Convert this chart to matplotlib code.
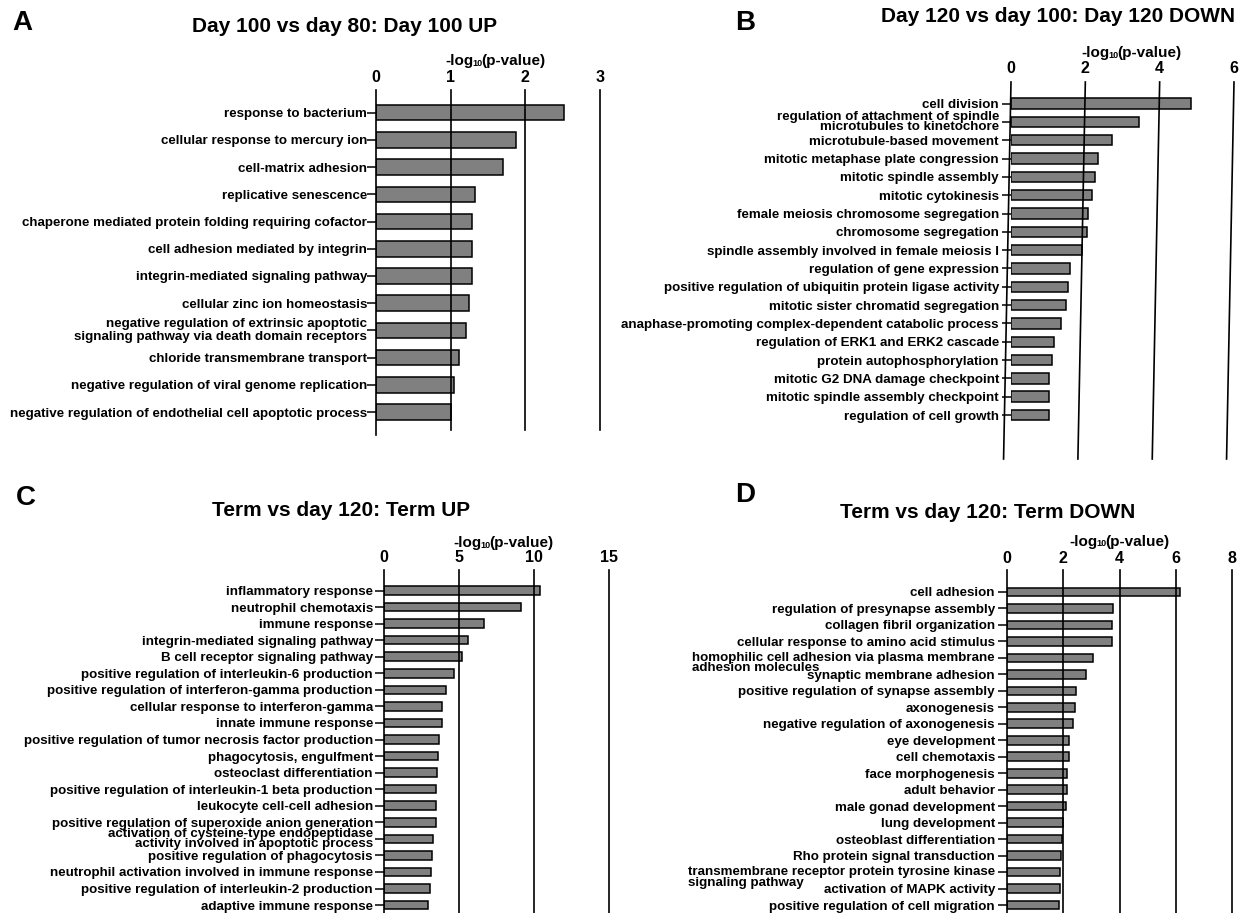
import numpy as np
import matplotlib
matplotlib.use("Agg")
import matplotlib.pyplot as plt
from matplotlib.transforms import ScaledTranslation

plt.rcParams['font.family'] = ['Liberation Sans Narrow', 'Liberation Sans', 'DejaVu Sans']
plt.rcParams['font.weight'] = 'bold'

# ---- GO terms and -log10(p) values -------------------------------
terms_a = ["response to bacterium",
           "cellular response to mercury ion",
           "cell-matrix adhesion",
           "replicative senescence",
           "chaperone mediated protein folding requiring cofactor",
           "cell adhesion mediated by integrin",
           "integrin-mediated signaling pathway",
           "cellular zinc ion homeostasis",
           "negative regulation of extrinsic apoptotic\nsignaling pathway via death domain receptors",
           "chloride transmembrane transport",
           "negative regulation of viral genome replication",
           "negative regulation of endothelial cell apoptotic process"]
vals_a = [2.52, 1.88, 1.70, 1.32, 1.29, 1.29, 1.29, 1.25, 1.20, 1.11, 1.05, 1.01]
ticks_a = [0, 1, 2, 3]

terms_b = ["cell division",
           "regulation of attachment of spindle\nmicrotubules to kinetochore",
           "microtubule-based movement",
           "mitotic metaphase plate congression",
           "mitotic spindle assembly",
           "mitotic cytokinesis",
           "female meiosis chromosome segregation",
           "chromosome segregation",
           "spindle assembly involved in female meiosis I",
           "regulation of gene expression",
           "positive regulation of ubiquitin protein ligase activity",
           "mitotic sister chromatid segregation",
           "anaphase-promoting complex-dependent catabolic process",
           "regulation of ERK1 and ERK2 cascade",
           "protein autophosphorylation",
           "mitotic G2 DNA damage checkpoint",
           "mitotic spindle assembly checkpoint",
           "regulation of cell growth"]
vals_b = [4.85, 3.44, 2.73, 2.35, 2.27, 2.19, 2.08, 2.05, 1.90, 1.60,
          1.53, 1.48, 1.34, 1.16, 1.10, 1.02, 1.02, 1.01]
ticks_b = [0, 2, 4, 6]

terms_c = ["inflammatory response",
           "neutrophil chemotaxis",
           "immune response",
           "integrin-mediated signaling pathway",
           "B cell receptor signaling pathway",
           "positive regulation of interleukin-6 production",
           "positive regulation of interferon-gamma production",
           "cellular response to interferon-gamma",
           "innate immune response",
           "positive regulation of tumor necrosis factor production",
           "phagocytosis, engulfment",
           "osteoclast differentiation",
           "positive regulation of interleukin-1 beta production",
           "leukocyte cell-cell adhesion",
           "positive regulation of superoxide anion generation",
           "activation of cysteine-type endopeptidase\nactivity involved in apoptotic process",
           "positive regulation of phagocytosis",
           "neutrophil activation involved in immune response",
           "positive regulation of interleukin-2 production",
           "adaptive immune response"]
vals_c = [10.38, 9.15, 6.64, 5.58, 5.21, 4.68, 4.10, 3.86, 3.84, 3.65,
          3.60, 3.54, 3.44, 3.44, 3.44, 3.25, 3.17, 3.12, 3.07, 2.96]
ticks_c = [0, 5, 10, 15]

terms_d = ["cell adhesion",
           "regulation of presynapse assembly",
           "collagen fibril organization",
           "cellular response to amino acid stimulus",
           "homophilic cell adhesion via plasma membrane\nadhesion molecules",
           "synaptic membrane adhesion",
           "positive regulation of synapse assembly",
           "axonogenesis",
           "negative regulation of axonogenesis",
           "eye development",
           "cell chemotaxis",
           "face morphogenesis",
           "adult behavior",
           "male gonad development",
           "lung development",
           "osteoblast differentiation",
           "Rho protein signal transduction",
           "transmembrane receptor protein tyrosine kinase\nsignaling pathway",
           "activation of MAPK activity",
           "positive regulation of cell migration"]
vals_d = [6.15, 3.78, 3.73, 3.73, 3.07, 2.81, 2.46, 2.42, 2.36, 2.21,
          2.21, 2.15, 2.15, 2.08, 1.98, 1.95, 1.91, 1.88, 1.88, 1.85]
ticks_d = [0, 2, 4, 6, 8]

W, H = 1242, 913
fig = plt.figure(figsize=(W / 100, H / 100), dpi=100)
renderer = fig.canvas.get_renderer()
LAB = 9.6


def fx(x):
    return x / W


def fy(y):
    return 1 - y / H


def panel(x0, x1, top, bottom, ylim, terms, vals, ticks, bar_h, pad,
          grid_end=None, lean=0.0, linesp=1.0, left_wrap=(), tick_y=11):
    ax = fig.add_axes([fx(x0), fy(bottom), (x1 - x0) / W, (bottom - top) / H])
    rows = np.arange(len(terms))
    ax.barh(rows, vals, height=bar_h, color='#808080', edgecolor='black',
            linewidth=1.1, zorder=2)
    ax.set_xlim(ticks[0], ticks[-1])
    ax.set_ylim(ylim[1], ylim[0])
    for s in ax.spines.values():
        s.set_visible(False)

    # vertical reference lines at every tick
    for t in ticks:
        yb = ylim[1] if (t == 0 or grid_end is None) else grid_end
        ax.plot([t, t - lean], [ylim[0], yb], color='black', lw=1.2,
                zorder=3, clip_on=False)

    ax.xaxis.tick_top()
    ax.set_xticks(ticks)
    ax.tick_params(axis='x', length=0, pad=(tick_y - 6) * 0.72, labelsize=11.5)
    ax.set_yticks(rows)
    ax.set_yticklabels([''] * len(rows))
    ax.tick_params(axis='y', length=6.5, width=1.1, direction='out')

    off = ScaledTranslation(-(6.5 + pad) / 72, 0, fig.dpi_scale_trans)
    trans = ax.get_yaxis_transform() + off
    for i, (r, lab) in enumerate(zip(rows, terms)):
        if i in left_wrap:
            tr = trans + ScaledTranslation(0, -3.7 / 72, fig.dpi_scale_trans)
            ax.text(0, r, lab, transform=tr, ha='right', va='center',
                    multialignment='left', fontsize=LAB, linespacing=linesp)
        elif '\n' in lab:
            ax.text(0, r, lab, transform=trans, ha='right', va='center',
                    fontsize=LAB, linespacing=linesp)
        else:
            ax.text(0, r, lab, transform=trans, ha='right',
                    va='center_baseline', fontsize=LAB)
    return ax


def xlabel(xc, yc):
    # -log10(p-value) with a small lowered subscript
    parts = [('-log', 11, 0), ('10', 6.5, -4), ('(p-value)', 11, 0)]
    widths = []
    for s, fs, dy in parts:
        t = fig.text(0, 0, s, fontsize=fs)
        widths.append(t.get_window_extent(renderer).width - 1)
        t.remove()
    x = xc - sum(widths) / 2
    for (s, fs, dy), w in zip(parts, widths):
        fig.text(fx(x), fy(yc - dy), s, fontsize=fs, ha='left',
                 va='center_baseline' if dy == 0 else 'center')
        x += w


def heading(letter, lx, ly, title, tx, ty):
    fig.text(fx(lx), fy(ly), letter, fontsize=20, family='Liberation Sans',
             ha='left', va='center')
    fig.text(fx(tx), fy(ty), title, fontsize=15, family='Liberation Sans',
             ha='center', va='center')


# A
panel(376, 600, 90, 435, (-0.83, 11.84), terms_a, vals_a, ticks_a,
      bar_h=0.57, pad=0, grid_end=11.66, linesp=1.1)
heading('A', 12, 23, 'Day 100 vs day 80: Day 100 UP', 345, 27)
xlabel(495, 60)

# B
panel(1011, 1234, 82, 459, (-1.18, 19.4), terms_b, vals_b, ticks_b,
      bar_h=0.57, pad=2.2, lean=0.2, linesp=0.85, tick_y=12)
heading('B', 735, 23, 'Day 120 vs day 100: Day 120 DOWN', 1058, 16)
xlabel(1131, 52)

# C
panel(384, 609, 570, 913, (-1.24, 19.48), terms_c, vals_c, ticks_c,
      bar_h=0.52, pad=1.5, linesp=0.85)
heading('C', 16, 498, 'Term vs day 120: Term UP', 341, 510)
xlabel(503, 541)

# D
panel(1007, 1232, 570, 913, (-1.33, 19.48), terms_d, vals_d, ticks_d,
      bar_h=0.52, pad=2.2, left_wrap=(4, 17), linesp=0.85, tick_y=10)
heading('D', 735, 495, 'Term vs day 120: Term DOWN', 988, 512)
xlabel(1119, 540)

fig.savefig('out.png', dpi=100)
